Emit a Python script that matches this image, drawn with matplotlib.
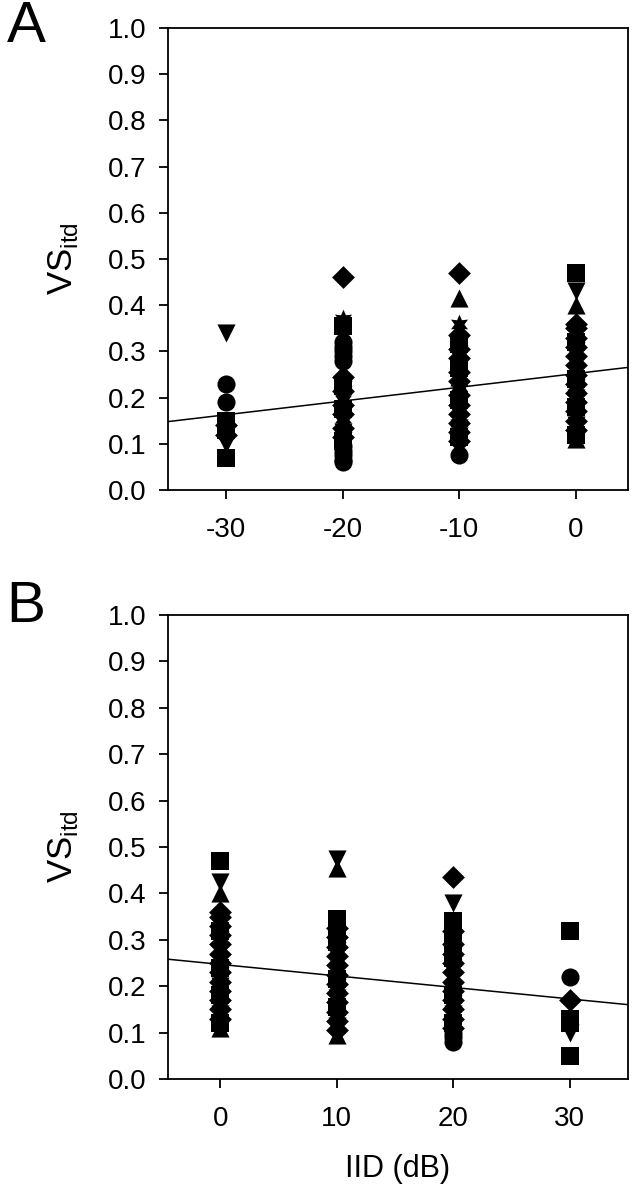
import numpy as np
import matplotlib.pyplot as plt

plt.rcParams['font.family'] = ['Liberation Sans', 'DejaVu Sans']
plt.rcParams['axes.unicode_minus'] = False

# group codes: 0 circle, 1 square, 2 up-triangle, 3 down-triangle, 4 diamond, 5 star
# ---- panel A (IID -30 .. 0)
a_x = [-30, -20, -10, 0]
a_vs = [
    [0.34, 0.23, 0.19, 0.15, 0.14, 0.13, 0.12, 0.10, 0.07],
    [0.46, 0.37, 0.355, 0.32, 0.31, 0.30, 0.29, 0.28, 0.255, 0.245, 0.235, 0.225,
     0.215, 0.205, 0.195, 0.185, 0.175, 0.165, 0.155, 0.145, 0.135, 0.125, 0.115,
     0.105, 0.095, 0.085, 0.075, 0.065, 0.06],
    [0.47, 0.415, 0.36, 0.335, 0.325, 0.315, 0.305, 0.295, 0.285, 0.275, 0.265,
     0.255, 0.245, 0.235, 0.225, 0.215, 0.205, 0.195, 0.185, 0.175, 0.165, 0.155,
     0.145, 0.135, 0.125, 0.115, 0.105, 0.075],
    [0.47, 0.43, 0.40, 0.36, 0.35, 0.34, 0.33, 0.32, 0.31, 0.30, 0.29, 0.28, 0.27,
     0.26, 0.25, 0.24, 0.23, 0.22, 0.21, 0.20, 0.19, 0.18, 0.17, 0.16, 0.15, 0.14,
     0.13, 0.12, 0.11],
]
a_grp = [
    [3, 0, 0, 1, 4, 1, 4, 3, 1],
    [4, 5, 1, 0, 0, 0, 0, 0, 2, 4, 5, 1, 4, 3, 5, 4, 1, 4, 5, 2, 4, 3, 4, 1,
     0, 0, 0, 0, 0],
    [4, 2, 5, 4, 5, 1, 4, 3, 4, 5, 1, 4, 2, 4, 5, 3, 4, 1, 4, 5, 4, 2, 4, 3,
     4, 1, 4, 0],
    [1, 3, 2, 4, 4, 5, 4, 1, 4, 3, 4, 5, 4, 2, 4, 1, 4, 5, 4, 3, 4, 1, 4, 5,
     4, 3, 4, 1, 2],
]
a_fit = (0.00297, 0.252)   # slope, intercept

# ---- panel B (IID 0 .. 30)
b_x = [0, 10, 20, 30]
b_vs = [
    [0.47, 0.425, 0.40, 0.36, 0.35, 0.34, 0.33, 0.32, 0.31, 0.30, 0.29, 0.28,
     0.27, 0.26, 0.25, 0.24, 0.23, 0.22, 0.21, 0.20, 0.19, 0.18, 0.17, 0.16,
     0.15, 0.14, 0.13, 0.12, 0.11],
    [0.475, 0.455, 0.345, 0.335, 0.325, 0.315, 0.305, 0.295, 0.285, 0.275, 0.265,
     0.255, 0.245, 0.235, 0.225, 0.215, 0.205, 0.195, 0.185, 0.175, 0.165, 0.155,
     0.145, 0.135, 0.125, 0.115, 0.105, 0.095],
    [0.435, 0.38, 0.34, 0.32, 0.30, 0.29, 0.28, 0.27, 0.26, 0.25, 0.24, 0.23,
     0.22, 0.21, 0.20, 0.19, 0.18, 0.17, 0.16, 0.15, 0.14, 0.13, 0.12, 0.11,
     0.10, 0.09, 0.08],
    [0.32, 0.22, 0.17, 0.13, 0.12, 0.10, 0.05],
]
b_grp = [
    [1, 3, 2, 4, 4, 5, 4, 1, 4, 3, 4, 5, 4, 2, 4, 1, 4, 5, 4, 3, 4, 1, 4, 5,
     4, 3, 4, 1, 2],
    [3, 2, 1, 1, 4, 5, 4, 1, 4, 3, 4, 5, 4, 2, 4, 1, 4, 5, 4, 3, 4, 1, 4, 5,
     4, 3, 4, 2],
    [4, 3, 1, 4, 1, 4, 5, 4, 1, 4, 3, 4, 5, 4, 2, 4, 1, 4, 5, 4, 3, 4, 1, 4,
     0, 0, 0],
    [1, 0, 4, 1, 1, 3, 1],
]
b_fit = (-0.00248, 0.247)

y_ticks = np.round(np.arange(0, 1.01, 0.1), 1)

markers = ['o', 's', '^', 'v', 'D', (6, 1, 0)]
sizes = [170, 150, 170, 170, 135, 200]


def draw_panel(ax, xs, vs, grps, fit, xlim, xticks, letter, ytop):
    x0 = np.linspace(xlim[0], xlim[1], 2)
    ax.plot(x0, fit[0] * x0 + fit[1], color='black', lw=1.1, zorder=2)
    for x, v, g in zip(xs, vs, grps):
        v = np.array(v)
        g = np.array(g)
        for k in range(len(markers)):
            sel = g == k
            if sel.any():
                ax.scatter(np.full(sel.sum(), x), v[sel], marker=markers[k],
                           s=sizes[k], color='black', linewidths=0, zorder=3)
    ax.set_xlim(xlim)
    ax.set_ylim(0, 1.0)
    ax.set_xticks(xticks)
    ax.set_yticks(y_ticks)
    ax.set_yticklabels([f'{t:.1f}' for t in y_ticks])
    ax.tick_params(direction='out', length=6.5, width=1.3, labelsize=20)
    ax.tick_params(axis='y', pad=9)
    ax.tick_params(axis='x', pad=13)
    for sp in ax.spines.values():
        sp.set_linewidth(1.3)
    ax.set_ylabel(r'VS$_{\mathregular{itd}}$', fontsize=25, labelpad=20)
    fig.text(0.010, ytop, letter, fontsize=42, ha='left', va='center')


fig = plt.figure(figsize=(6.4, 12), dpi=100)
ax_a = fig.add_axes([0.2625, 1 - 490 / 1200, 0.71875, 462 / 1200])
ax_b = fig.add_axes([0.2625, 1 - 1079 / 1200, 0.71875, 464 / 1200])

draw_panel(ax_a, a_x, a_vs, a_grp, a_fit, (-35, 4.5), [-30, -20, -10, 0], 'A',
           1 - 27 / 1200)
draw_panel(ax_b, b_x, b_vs, b_grp, b_fit, (-4.5, 35), [0, 10, 20, 30], 'B',
           1 - 607 / 1200)
ax_b.set_xlabel('IID (dB)', fontsize=22, labelpad=16)

fig.savefig('out.png', dpi=100)
